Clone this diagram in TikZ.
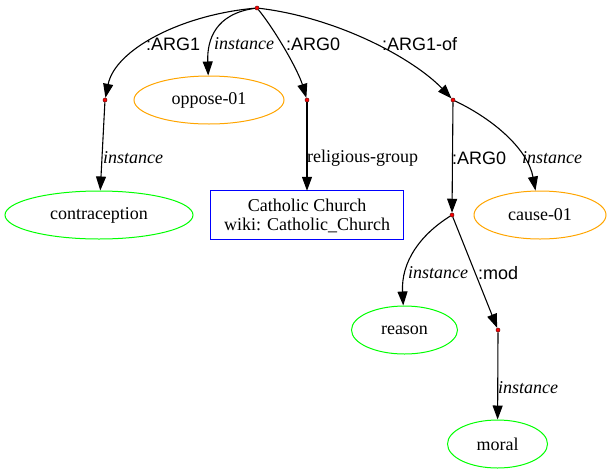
\documentclass[tikz,border=0pt]{standalone}
\usepackage{fontspec}
\setmainfont{Liberation Serif}
\newfontfamily\lsans{Liberation Sans}
\usetikzlibrary{arrows.meta,shapes.geometric}
\definecolor{gvorange}{HTML}{FFA500}
\definecolor{gvgreen}{HTML}{00FF00}
\definecolor{gvblue}{HTML}{0000FF}
\begin{document}
\begin{tikzpicture}[x=1pt,y=-1pt,
  every node/.style={font=\fontsize{18}{19}\selectfont},
  dotn/.style={circle, fill=red, draw=black!60!red, line width=0.5pt, inner sep=0pt, minimum size=4pt},
  ell/.style={ellipse, draw, line width=1pt, inner sep=0pt, minimum height=48pt},
  boxline/.style={draw=gvblue, line width=1pt},
  edge/.style={-{Triangle[length=14pt,width=10pt]}, line width=1.1pt},
  lsn/.style={anchor=west, inner sep=0pt, font=\fontsize{18}{19}\selectfont\lsans},
  lit/.style={anchor=west, inner sep=0pt, font=\fontsize{18}{19}\selectfont\itshape},
  lsf/.style={anchor=west, inner sep=0pt, font=\fontsize{18}{19}\selectfont}]
\useasboundingbox (0,0) rectangle (612,474);
% nodes
\node[dotn] (r) at (257,8) {};
\node[dotn] (a1) at (105,100) {};
\node[ell, draw=gvorange, minimum width=150pt] (op) at (209,100) {oppose-01};
\node[dotn] (a0) at (307,100) {};
\node[dotn] (a1of) at (453,100) {};
\node[ell, draw=gvgreen, minimum width=188pt] (contr) at (99,215) {contraception};
\node[rectangle, minimum width=192pt, minimum height=48pt, inner sep=0pt] (cc) at (307,215) {};
\node[align=center, inner sep=0pt] (cct) at (307,216) {Catholic Church\\wiki: Catholic\_Church};
\draw[boxline] (cc.north west) rectangle (cc.south east);
\node[dotn] (d2) at (452,215) {};
\node[ell, draw=gvorange, minimum width=132pt] (cause) at (540,215) {cause-01};
\node[ell, draw=gvgreen, minimum width=106pt] (reason) at (404.5,330) {reason};
\node[dotn] (md) at (498,330) {};
\node[ell, draw=gvgreen, minimum width=100pt] (moral) at (497.5,444) {moral};
% edges
\draw[edge] (r) .. controls (180,15) and (115,50) .. (a1);
\draw[edge] (r) .. controls (215,14) and (207,40) .. (op);
\draw[edge] (r) .. controls (275,30) and (298,70) .. (a0);
\draw[edge] (r) .. controls (340,18) and (415,60) .. (a1of);
\draw[edge] (a1) -- (contr);
\draw[edge] (a0) -- (cc);
\draw[edge] (a1of) -- (d2);
\draw[edge] (a1of) .. controls (495,120) and (528,150) .. (cause);
\draw[edge] (d2) .. controls (420,235) and (401,262) .. (reason);
\draw[edge] (d2) -- (md);
\draw[edge] (md) -- (moral);
% labels
\node[lsn] (l1) at (146,44) {:ARG1};
\node[lit] (l2) at (214,44) {instance};
\node[lsn] (l3) at (286,44) {:ARG0};
\node[lsn] (l4) at (382,44) {:ARG1-of};
\node[lit] (l5) at (103,158) {instance};
\node[lsf] (l6) at (307,158) {religious-group};
\node[lsn] (l7) at (452,158) {:ARG0};
\node[lit] (l8) at (522,158) {instance};
\node[lit] (l9) at (408,273) {instance};
\node[lsn] (l10) at (478,273) {:mod};
\node[lit] (l11) at (498,388) {instance};
\end{tikzpicture}
\end{document}
